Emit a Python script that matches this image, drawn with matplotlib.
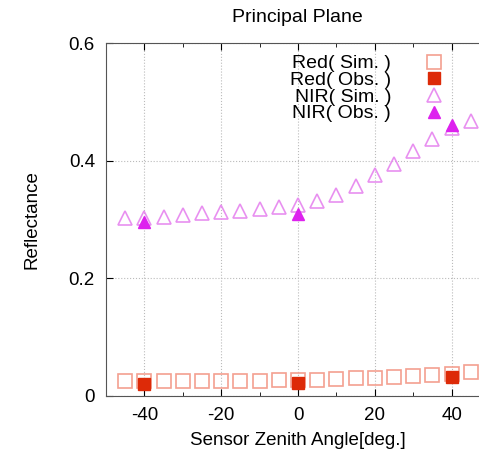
import numpy as np
import matplotlib
matplotlib.use("Agg")
import matplotlib.pyplot as plt

plt.rcParams["font.family"] = ["Liberation Sans", "DejaVu Sans"]
plt.rcParams["axes.unicode_minus"] = False

# sensor zenith angles
angles_sim = [-45, -40, -35, -30, -25, -20, -15, -10, -5, 0, 5, 10, 15, 20, 25, 30, 35, 40, 45]
angles_obs = [-40, 0, 40]

red_sim = [0.025, 0.025, 0.025, 0.025, 0.026, 0.026, 0.026, 0.026, 0.027, 0.027,
           0.028, 0.029, 0.030, 0.031, 0.032, 0.034, 0.036, 0.037, 0.040]
red_obs = [0.020, 0.022, 0.032]
nir_sim = [0.302, 0.303, 0.305, 0.308, 0.311, 0.312, 0.314, 0.318, 0.322, 0.325,
           0.332, 0.342, 0.357, 0.375, 0.395, 0.417, 0.437, 0.455, 0.468]
nir_obs = [0.296, 0.309, 0.460]

fig = plt.figure(figsize=(4.79, 4.55), dpi=100)
ax = fig.add_axes([106/479, 59/455, 384/479, 353/455])

ax.plot(angles_sim, red_sim, ls="none", marker="s", ms=10, mfc="none",
        mec="#f4a090", mew=1.2, label="Red( Sim. )")
ax.plot(angles_obs, red_obs, ls="none", marker="s", ms=9, color="#dd2a08",
        label="Red( Obs. )")
ax.plot(angles_sim, nir_sim, ls="none", marker="^", ms=10.5, mfc="none",
        mec="#e890f0", mew=1.2, label="NIR( Sim. )")
ax.plot(angles_obs, nir_obs, ls="none", marker="^", ms=9, color="#dd22ee",
        label="NIR( Obs. )")

ax.set_xlim(-50, 50)
ax.set_ylim(0, 0.6)
ax.set_xticks([-40, -20, 0, 20, 40])
ax.set_xticks(np.arange(-50, 51, 10), minor=True)
ax.set_yticks([0, 0.2, 0.4, 0.6])
ax.set_yticklabels(["0", "0.2", "0.4", "0.6"])
ax.tick_params(direction="in", top=True, right=True, labelsize=13.5, length=5, pad=8)
ax.tick_params(which="minor", direction="in", top=True, right=True, length=3)
ax.grid(True, ls=":", color="#bbbbbb", lw=0.8)

for s in ax.spines.values():
    s.set_color("#555555")

ax.set_xlabel("Sensor Zenith Angle[deg.]", fontsize=13.5, labelpad=6)
ax.set_ylabel("Reflectance", fontsize=13.5, labelpad=20)
fig.text(297/479, 1 - 17/455, "Principal Plane", ha="center", va="center", fontsize=14)

leg = ax.legend(loc="upper right", bbox_to_anchor=(0.94, 1.005), markerfirst=False,
                frameon=False, fontsize=14, handletextpad=1.2, labelspacing=-0.05,
                borderaxespad=0.3)

fig.savefig("out.png", dpi=100)
